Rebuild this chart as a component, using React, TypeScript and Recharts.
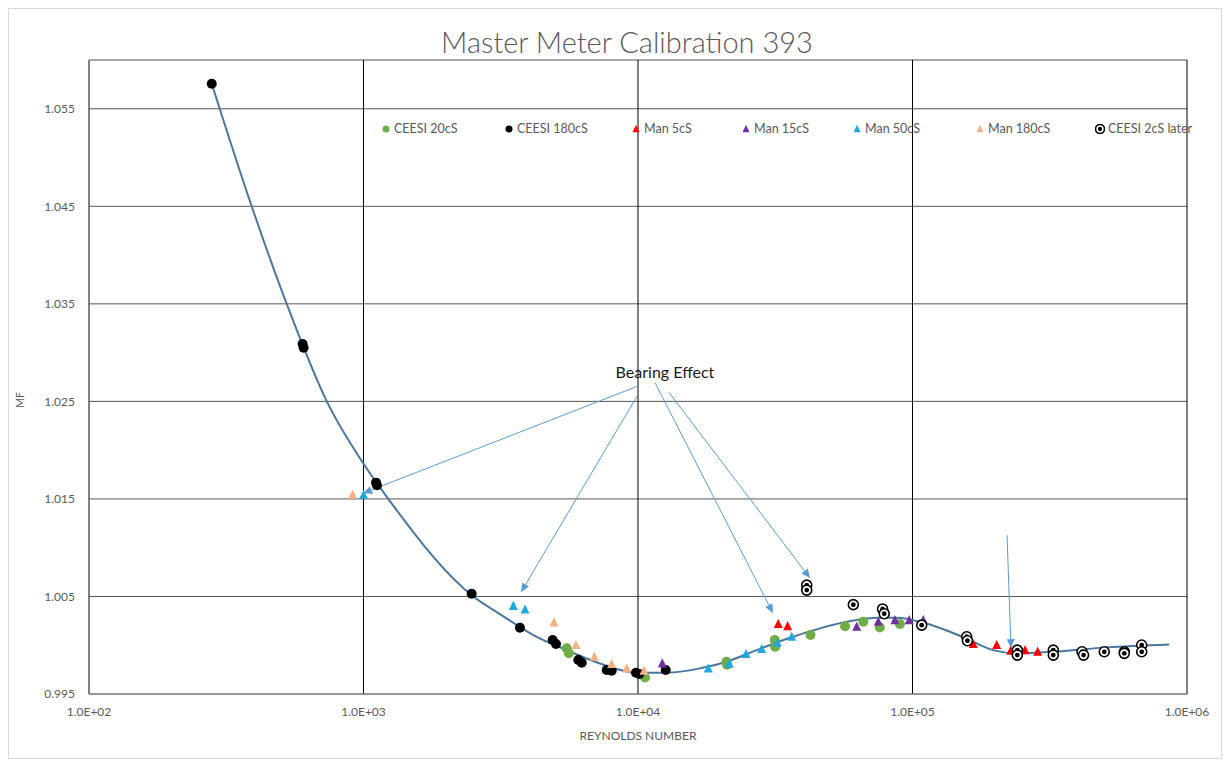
// Master meter calibration: MF vs Reynolds number, log x axis, fitted curve + test points.

import {
  ComposedChart,
  Scatter,
  Line,
  XAxis,
  YAxis,
  CartesianGrid,
  ReferenceLine,
  ReferenceDot,
  Legend,
} from "recharts";

type Pt = { re: number; mf: number };

const ceesi20: Pt[] = [
  { re: 5500, mf: 0.99968 }, { re: 5600, mf: 0.99917 }, { re: 10600, mf: 0.9967 },
  { re: 21000, mf: 0.99831 }, { re: 21100, mf: 0.998 }, { re: 31500, mf: 1.00053 },
  { re: 31600, mf: 0.99984 }, { re: 42500, mf: 1.00104 }, { re: 56800, mf: 1.00195 },
  { re: 66200, mf: 1.0024 }, { re: 76000, mf: 1.00183 }, { re: 90000, mf: 1.00217 },
];

const ceesi180: Pt[] = [
  { re: 280, mf: 1.05757 }, { re: 600, mf: 1.03088 }, { re: 605, mf: 1.0305 },
  { re: 1111, mf: 1.01667 }, { re: 1120, mf: 1.0164 }, { re: 2477, mf: 1.00527 },
  { re: 3715, mf: 1.00179 }, { re: 4887, mf: 1.00053 }, { re: 5027, mf: 1.00012 },
  { re: 6060, mf: 0.99848 }, { re: 6237, mf: 0.9982 }, { re: 7690, mf: 0.99746 },
  { re: 8020, mf: 0.99739 }, { re: 9833, mf: 0.99718 }, { re: 10113, mf: 0.99705 },
  { re: 12620, mf: 0.99746 },
];

const man5: Pt[] = [
  { re: 32430, mf: 1.00217 }, { re: 35080, mf: 1.00196 }, { re: 166500, mf: 1.00012 },
  { re: 202600, mf: 1.00002 }, { re: 227900, mf: 0.99943 }, { re: 257000, mf: 0.9995 },
  { re: 285700, mf: 0.99933 },
];

const man15: Pt[] = [
  { re: 12260, mf: 0.99814 }, { re: 62620, mf: 1.00189 }, { re: 75070, mf: 1.0024 },
  { re: 86300, mf: 1.00257 }, { re: 97300, mf: 1.00257 }, { re: 109500, mf: 1.00257 },
];

const man50: Pt[] = [
  { re: 1000, mf: 1.0154 }, { re: 3514, mf: 1.00404 }, { re: 3876, mf: 1.00367 },
  { re: 18030, mf: 0.99763 }, { re: 21500, mf: 0.9981 }, { re: 24740, mf: 0.9991 },
  { re: 28220, mf: 0.99961 }, { re: 32170, mf: 1.00025 }, { re: 36300, mf: 1.00087 },
];

const man180: Pt[] = [
  { re: 913, mf: 1.01543 }, { re: 4943, mf: 1.00234 }, { re: 5943, mf: 1.00002 },
  { re: 6931, mf: 0.99882 }, { re: 8020, mf: 0.99807 }, { re: 9095, mf: 0.99763 },
  { re: 10517, mf: 0.99739 },
];

const ceesi2Later: Pt[] = [
  { re: 41180, mf: 1.00616 }, { re: 41180, mf: 1.00565 }, { re: 60870, mf: 1.00416 },
  { re: 77800, mf: 1.00372 }, { re: 78900, mf: 1.00323 }, { re: 108000, mf: 1.00206 },
  { re: 157600, mf: 1.00087 }, { re: 158500, mf: 1.00046 }, { re: 240900, mf: 0.9995 },
  { re: 240900, mf: 0.99899 }, { re: 325800, mf: 0.9995 }, { re: 325800, mf: 0.99899 },
  { re: 414500, mf: 0.99933 }, { re: 420000, mf: 0.99899 }, { re: 499700, mf: 0.99933 },
  { re: 591000, mf: 0.99933 }, { re: 591000, mf: 0.99917 }, { re: 683900, mf: 1.00002 },
  { re: 683900, mf: 0.99933 },
];

// fitted calibration curve
const fitCurve: Pt[] = [
  { re: 280, mf: 1.05757 }, { re: 391.5, mf: 1.045 }, { re: 525, mf: 1.035 },
  { re: 735, mf: 1.025 }, { re: 1000, mf: 1.0186 }, { re: 1231, mf: 1.015 },
  { re: 2512, mf: 1.005 }, { re: 3141, mf: 1.00319 }, { re: 4155, mf: 1.00104 },
  { re: 5495, mf: 0.9995 }, { re: 7272, mf: 0.99813 }, { re: 9940, mf: 0.99718 },
  { re: 12720, mf: 0.99718 }, { re: 16830, mf: 0.99763 }, { re: 21040, mf: 0.99831 },
  { re: 27060, mf: 0.9995 }, { re: 35790, mf: 1.00076 }, { re: 47320, mf: 1.00183 },
  { re: 62620, mf: 1.00258 }, { re: 74070, mf: 1.00281 }, { re: 87580, mf: 1.00281 },
  { re: 109500, mf: 1.0023 }, { re: 136900, mf: 1.00138 }, { re: 159300, mf: 1.0006 },
  { re: 196500, mf: 0.9995 }, { re: 239700, mf: 0.99917 }, { re: 324900, mf: 0.99933 },
  { re: 510000, mf: 0.99978 }, { re: 862000, mf: 1.00008 },
];

// "Bearing Effect" arrows: [from, to] in data units
const bearingArrows = [
  { x1: 9910, y1: 1.02653, x2: 996, y2: 1.01558 },
  { x1: 9910, y1: 1.02551, x2: 3748, y2: 1.00544 },
  { x1: 11530, y1: 1.02694, x2: 31020, y2: 1.00329 },
  { x1: 12970, y1: 1.02592, x2: 42330, y2: 1.00688 },
  { x1: 221000, y1: 1.01128, x2: 228500, y2: 0.99971 },
];
const bearingLabel = { re: 12540, mf: 1.02797, text: "Bearing Effect" };

const xTicks = [100, 1000, 10000, 100000, 1000000];
const xTickLabels = ["1.0E+02", "1.0E+03", "1.0E+04", "1.0E+05", "1.0E+06"];
const yTicks = [0.995, 1.005, 1.015, 1.025, 1.035, 1.045, 1.055];

const GREEN = "#70ad47";
const BLACK = "#000000";
const RED = "#ff0000";
const PURPLE = "#7030a0";
const CYAN = "#1ea7e1";
const PEACH = "#f4b183";
const CURVE = "#4a76a0";
const ARROW = "#5b9bd5";
const TEXT = "#595959";

type Mark = "dot" | "tri" | "ring";

const series: { name: string; data: Pt[]; color: string; mark: Mark }[] = [
  { name: "CEESI 20cS", data: ceesi20, color: GREEN, mark: "dot" },
  { name: "CEESI 180cS", data: ceesi180, color: BLACK, mark: "dot" },
  { name: "Man 5cS", data: man5, color: RED, mark: "tri" },
  { name: "Man 15cS", data: man15, color: PURPLE, mark: "tri" },
  { name: "Man 50cS", data: man50, color: CYAN, mark: "tri" },
  { name: "Man 180cS", data: man180, color: PEACH, mark: "tri" },
  { name: "CEESI 2cS later", data: ceesi2Later, color: BLACK, mark: "ring" },
];

// legend slot widths (px), one per entry
const legendSlots = [123, 127, 110, 111, 123, 120, 130];

function markShape(mark: Mark, color: string, s: number) {
  return (p: any) => {
    const { cx, cy } = p;
    if (mark === "tri") {
      const h = s * 0.9;
      return (
        <polygon
          points={`${cx},${cy - h / 2 - 1} ${cx - s / 2},${cy + h / 2} ${cx + s / 2},${cy + h / 2}`}
          fill={color}
        />
      );
    }
    if (mark === "ring") {
      return (
        <g>
          <circle cx={cx} cy={cy} r={s / 2} fill="#fff" stroke={color} strokeWidth={1.6} />
          <circle cx={cx} cy={cy} r={s / 4.2} fill={color} />
        </g>
      );
    }
    return <circle cx={cx} cy={cy} r={s / 2} fill={color} />;
  };
}

function Arrow(p: any) {
  const { x1, y1, x2, y2 } = p;
  const a = Math.atan2(y2 - y1, x2 - x1);
  const len = 9;
  const half = 4;
  const bx = x2 - len * Math.cos(a);
  const by = y2 - len * Math.sin(a);
  const pts = `${x2},${y2} ${bx - half * Math.sin(a)},${by + half * Math.cos(a)} ${bx + half * Math.sin(a)},${by - half * Math.cos(a)}`;
  return (
    <g>
      <line x1={x1} y1={y1} x2={bx} y2={by} stroke={ARROW} strokeWidth={1} />
      <polygon points={pts} fill={ARROW} />
    </g>
  );
}

function LegendRow() {
  return (
    <div style={{ display: "flex", alignItems: "center", fontSize: 12.5, color: TEXT, whiteSpace: "nowrap" }}>
      {series.map((s, i) => (
        <div key={s.name} style={{ display: "flex", alignItems: "center", width: legendSlots[i] }}>
          <svg width={10} height={10}>
            {markShape(s.mark, s.color, s.mark === "ring" ? 9 : 7)({ cx: 5, cy: 5 })}
          </svg>
          <span style={{ marginLeft: 3 }}>{s.name}</span>
        </div>
      ))}
    </div>
  );
}

const W = 1212;
const H = 749;

export default function App() {
  return (
    <div
      style={{
        position: "relative",
        width: W,
        height: H,
        border: "1px solid #d9d9d9",
        background: "#fff",
        fontFamily: "Lato, 'Open Sans', sans-serif",
      }}
    >
      <div
        style={{
          position: "absolute",
          top: 16,
          left: 12,
          width: W,
          textAlign: "center",
          fontSize: 29,
          fontWeight: 300,
          color: TEXT,
          lineHeight: "34px",
        }}
      >
        Master Meter Calibration 393
      </div>
      <div
        style={{
          position: "absolute",
          left: 11,
          top: 391,
          transform: "translate(-50%, -50%) rotate(-90deg)",
          fontSize: 10.5,
          color: TEXT,
        }}
      >
        MF
      </div>
      <ComposedChart width={W} height={H} margin={{ top: 51, right: 34, bottom: 0, left: 0 }}>
        <CartesianGrid horizontal={true} vertical={false} stroke="#555555" />
        <CartesianGrid horizontal={false} vertical={true} stroke="#000" />
        <XAxis
          dataKey="re"
          type="number"
          scale="log"
          domain={[100, 1000000]}
          allowDataOverflow
          ticks={xTicks}
          tickFormatter={(v: number) => xTickLabels[xTicks.indexOf(v)] ?? ""}
          tickLine={false}
          tickMargin={7}
          height={64}
          axisLine={{ stroke: "#868686" }}
          tick={{ fill: TEXT, fontSize: 12 }}
          label={{ value: "REYNOLDS NUMBER", position: "insideBottom", offset: 18, fill: TEXT, fontSize: 12 }}
        />
        <YAxis
          type="number"
          domain={[0.995, 1.06]}
          allowDataOverflow
          ticks={yTicks}
          tickFormatter={(v: number) => v.toFixed(3)}
          tickLine={false}
          tickMargin={8}
          width={80}
          axisLine={{ stroke: "#868686" }}
          tick={{ fill: TEXT, fontSize: 12 }}
        />
        <Legend
          layout="horizontal"
          verticalAlign="middle"
          align="center"
          content={() => <LegendRow />}
          wrapperStyle={{ top: 112, left: 372, width: "auto" }}
        />
        <Line
          data={fitCurve}
          dataKey="mf"
          type="monotone"
          stroke={CURVE}
          strokeWidth={2}
          dot={false}
          activeDot={false}
          legendType="none"
          isAnimationActive={false}
        />
        {series.map((s) => (
          <Scatter
            key={s.name}
            name={s.name}
            data={s.data}
            dataKey="mf"
            fill={s.color}
            shape={markShape(s.mark, s.color, s.mark === "tri" ? 9 : s.mark === "ring" ? 10 : 10)}
            isAnimationActive={false}
          />
        ))}
        {bearingArrows.map((a, i) => (
          <ReferenceLine
            key={i}
            segment={[{ x: a.x1, y: a.y1 }, { x: a.x2, y: a.y2 }]}
            shape={Arrow}
            ifOverflow="visible"
          />
        ))}
        <ReferenceDot
          x={bearingLabel.re}
          y={bearingLabel.mf}
          r={0}
          fill="none"
          stroke="none"
          label={{ value: bearingLabel.text, position: "center", fill: "#1a1a1a", fontSize: 16 }}
        />
      </ComposedChart>
    </div>
  );
}
